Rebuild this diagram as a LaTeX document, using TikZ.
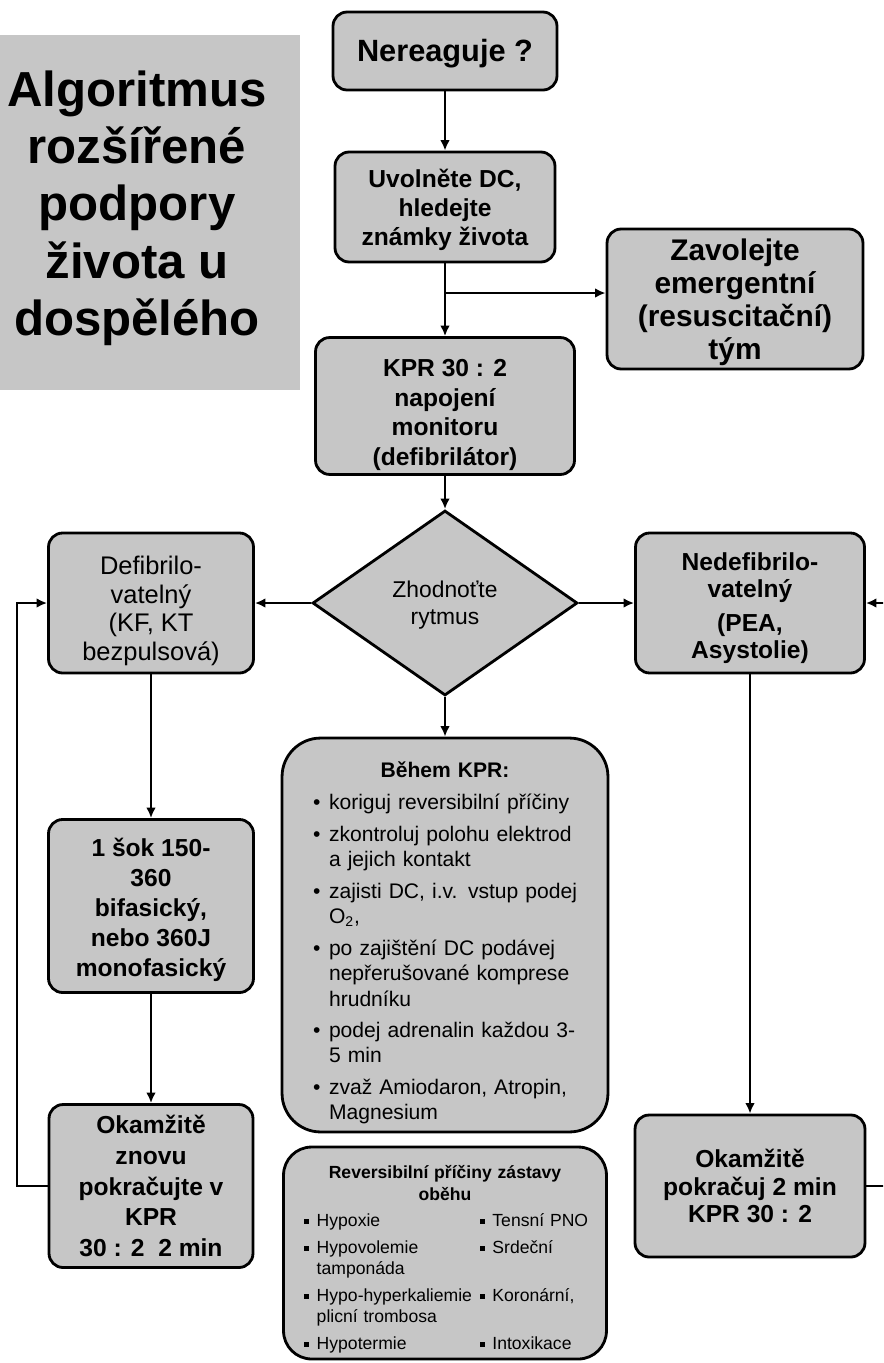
\documentclass[tikz,border=0pt]{standalone}
\usepackage{fontspec}
\setmainfont{Liberation Sans}
\usetikzlibrary{arrows.meta,shapes.geometric}
\definecolor{boxgray}{RGB}{198,198,198}
\setlength{\parindent}{0pt}

% bullet items
\newcommand{\bod}[1]{\par\vspace{3.4pt}\noindent\makebox[9pt][l]{\textbullet}\parbox[t]{150pt}{\strut#1\strut}}
\newcommand{\rb}{\makebox[7pt][l]{\rule[1.8pt]{2.6pt}{2.6pt}}}
\newcommand{\rrow}[2]{\par\vspace{3.3pt}\noindent\hspace*{5pt}\parbox[t]{100pt}{\strut#1\strut}\parbox[t]{64pt}{\strut#2\strut}}
% pushes a box text down
\newcommand{\lift}[1]{\rule{0pt}{#1}}

\tikzset{
  box/.style={draw, fill=boxgray, rounded corners=8pt, align=center, inner sep=2pt},
  bold14/.style={font=\fontsize{14}{17}\selectfont\bfseries},
}

\begin{document}
\begin{tikzpicture}[x=0.02cm, y=-0.02cm, line width=1.6pt, >={Latex[length=6pt,width=5.5pt]}]
    \useasboundingbox (0,0) rectangle (883,1363);
    \clip (0,0) rectangle (883,1363);

    % Title
    \fill[boxgray] (0,35) rectangle (300,390);
    \node[align=center, font=\fontsize{28}{32.6}\selectfont\bfseries] (title) at (137,208)
        {Algoritmus\\rozšířené\\podpory\\života u\\dospělého};

    % Boxes
    \node[box, minimum width=4.48cm, minimum height=1.56cm, font=\fontsize{17.5}{20}\selectfont\bfseries] (start) at (445,51) {\lift{15.5pt}Nereaguje ?};
    \node[box, minimum width=4.4cm, minimum height=2.2cm, font=\fontsize{14}{16.4}\selectfont\bfseries] (uvolnete) at (445,207) {\lift{13.5pt}Uvolněte DC,\\hledejte\\známky života};
    \node[box, minimum width=5.12cm, minimum height=2.8cm, font=\fontsize{17}{18.7}\selectfont\bfseries] (zavolejte) at (735,299) {\lift{16pt}Zavolejte\\emergentní\\(resuscitační)\\tým};
    \node[box, bold14, minimum width=5.18cm, minimum height=2.72cm] (kpr) at (445,406) {\lift{20pt}KPR 30 : 2\\napojení\\monitoru\\(defibrilátor)};
    \node[draw, diamond, fill=boxgray, minimum width=5.3cm, minimum height=3.7cm, inner sep=0pt, align=center, font=\fontsize{13}{15.3}\selectfont] (rytmus) at (445,603) {\lift{12pt}Zhodnoťte\\rytmus};
    \node[box, minimum width=4.1cm, minimum height=2.8cm, font=\fontsize{14.5}{16.2}\selectfont] (defib) at (151,603) {\lift{19.5pt}Defibrilo-\\vatelný\\(KF, KT\\bezpulsová)};
    \node[box, minimum width=4.58cm, minimum height=2.8cm, font=\fontsize{14}{15.5}\selectfont\bfseries] (nedefib) at (750,603) {\lift{16pt}Nedefibrilo-\\vatelný\\[4pt](PEA,\\Asystolie)};
    \node[box, bold14, minimum width=4.1cm, minimum height=3.46cm] (sok) at (151,906) {\lift{15pt}1 šok 150-\\360\\bifasický,\\nebo 360J\\monofasický};
    \node[box, minimum width=4.08cm, minimum height=3.26cm, font=\fontsize{14}{17.4}\selectfont\bfseries] (znovu) at (151,1186) {Okamžitě\\znovu\\pokračujte v\\KPR\\30 : 2~~2 min};
    \node[box, minimum width=4.6cm, minimum height=2.84cm, font=\fontsize{14}{15.8}\selectfont\bfseries] (pokracuj) at (750,1186) {Okamžitě\\pokračuj 2 min\\KPR 30 : 2};

    % During CPR
    \node[box, rounded corners=22pt, minimum width=6.52cm, minimum height=7.88cm, text width=160pt, align=left, inner sep=0pt, font=\fontsize{12}{14.5}\selectfont] (behem) at (445,935) {%
        \setlength{\parskip}{0pt}\setlength{\lineskip}{0pt}%
        {\centering\bfseries\lift{20pt}Během KPR:\par}\vspace{0.4pt}%
        \leftskip=5pt
        \bod{koriguj reversibilní příčiny}
        \bod{zkontroluj polohu elektrod\\a jejich kontakt}
        \bod{zajisti DC, i.v. vstup podej\\O\textsubscript{2},}
        \bod{po zajištění DC podávej\\nepřerušované komprese\\hrudníku}
        \bod{podej adrenalin každou 3-\\5 min}
        \bod{zvaž Amiodaron, Atropin,\\Magnesium}\par};

    % Reversible causes
    \node[box, rounded corners=16pt, minimum width=6.46cm, minimum height=4.24cm, text width=170pt, align=left, inner sep=0pt, font=\fontsize{10}{12}\selectfont] (revers) at (445,1253) {%
        \setlength{\parskip}{0pt}\setlength{\lineskip}{0pt}%
        {\centering\bfseries\lift{16.5pt}Reversibilní příčiny zástavy\\oběhu\par}%
        \rrow{\rb Hypoxie}{\rb Tensní PNO}
        \rrow{\rb Hypovolemie\\\hspace*{7pt}tamponáda}{\rb Srdeční}
        \rrow{\rb Hypo-hyperkaliemie\\\hspace*{7pt}plicní trombosa}{\rb Koronární,}
        \rrow{\rb Hypotermie}{\rb Intoxikace}\par};

    % Arrows
    \draw[->] (start) -- (uvolnete);
    \coordinate (branch) at (445,293);
    \draw (uvolnete) -- (branch);
    \draw[->] (branch) -- (kpr);
    \draw[->] (branch) -- (branch -| zavolejte.west);
    \draw[->] (kpr) -- (rytmus);
    \draw[->] (rytmus) -- (defib);
    \draw[->] (rytmus) -- (nedefib);
    \draw[->] (rytmus) -- (behem);
    \draw[->] (defib) -- (sok);
    \draw[->] (sok) -- (znovu);
    \draw[->] (nedefib) -- (pokracuj);

    % Loops back
    \coordinate (loopL) at (17,603);
    \coordinate (loopR) at (897,603);
    \draw[->] (znovu.west) -| (loopL) -- (defib.west);
    \draw[->] (pokracuj.east) -| (loopR) -- (nedefib.east);
\end{tikzpicture}
\end{document}
